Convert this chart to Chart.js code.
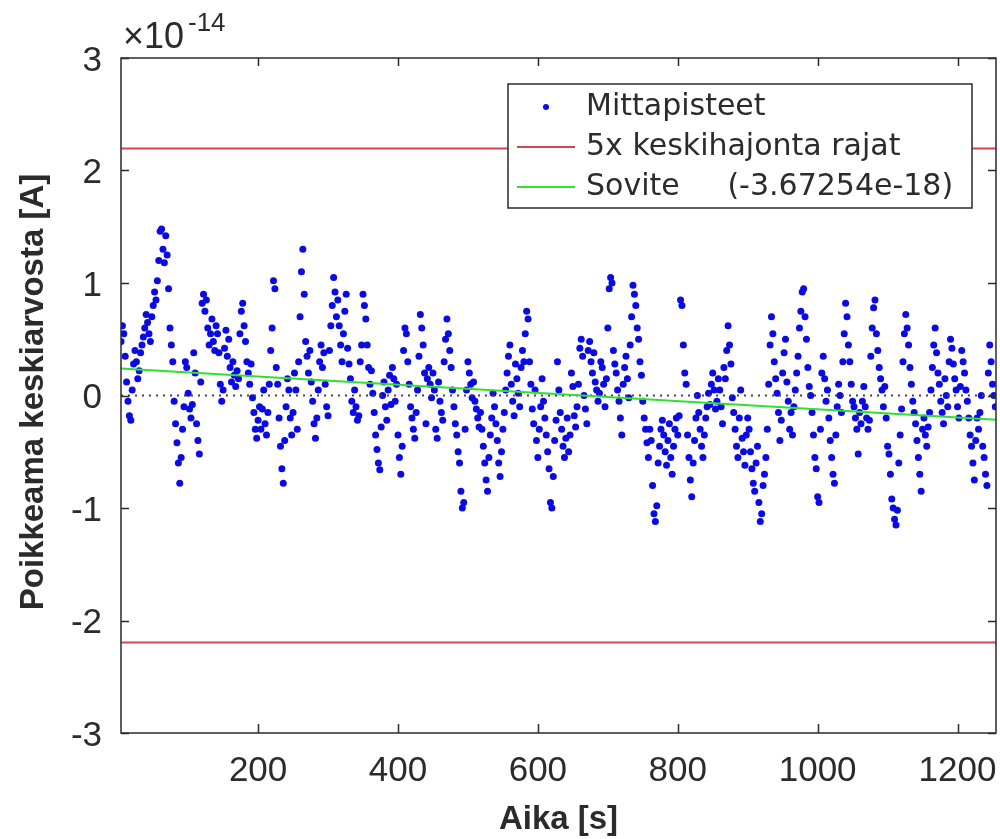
<!DOCTYPE html>
<html>
<head>
<meta charset="utf-8">
<script src="https://cdn.jsdelivr.net/npm/chart.js@4.4.0/dist/chart.umd.min.js"></script>
<style>
  html, body { margin: 0; padding: 0; background: #fff; }
  #wrap { width: 1000px; height: 839px; }
</style>
</head>
<body>
<div id="wrap"><canvas id="chart" width="1000" height="839"></canvas></div>
<script>
// measured deviation from the mean, units of 1e-14 A, one reading every 2 s from t = 4 s
const sampleStart = 4;
const sampleStep = 2;
const deviations = [
  0.48, 0.62, 0.55, 0.35, 0.12, -0.05, -0.18, -0.22, 0.05, 0.28, 0.40, 0.30, 0.15, 0.22, 0.38, 0.45, 0.52, 0.60, 0.72, 0.65,
  0.55, 0.48, 0.70, 0.80, 0.92, 0.85, 1.02, 1.20, 1.46, 1.48, 1.30, 1.18, 1.42, 1.25, 0.95, 0.60, 0.45, 0.30, -0.05, -0.25,
  -0.42, -0.60, -0.78, -0.55, -0.30, -0.10, 0.30, 0.25, 0.02, -0.12, -0.20, -0.08, 0.38, 0.20, -0.25, -0.40, -0.52, 0.12, 0.82, 0.90,
  0.75, 0.85, 0.60, 0.45, 0.55, 0.68, 0.48, 0.40, 0.62, 0.55, 0.38, 0.10, -0.05, 0.05, 0.42, 0.58, 0.35, 0.50, 0.25, 0.12,
  0.30, 0.18, 0.08, 0.22, 0.15, 0.55, 0.75, 0.82, 0.62, 0.48, 0.30, 0.20, 0.10, 0.28, -0.02, -0.15, -0.30, -0.38, -0.22, -0.10,
  -0.30, -0.12, 0.05, -0.25, -0.35, -0.15, 0.10, 0.40, 0.60, 1.02, 0.95, 0.25, 0.10, -0.20, -0.45, -0.65, -0.78, -0.40, -0.10, 0.15,
  0.05, -0.20, -0.35, -0.15, 0.20, 0.05, -0.30, 0.30, 0.70, 1.10, 1.30, 0.90, 0.48, 0.35, 0.20, 0.40, 0.12, -0.05, -0.25, -0.38,
  -0.20, 0.05, 0.30, 0.45, 0.25, 0.38, 0.10, -0.10, -0.18, 0.40, 0.62, 0.80, 1.05, 0.92, 0.70, 0.85, 0.62, 0.45, 0.30, 0.55,
  0.75, 0.90, 0.42, 0.28, 0.15, -0.05, -0.15, 0.05, -0.10, -0.22, -0.18, 0.30, 0.45, 0.90, 0.80, 0.68, 0.45, 0.25, 0.10, 0.22,
  0.02, -0.15, -0.35, -0.48, -0.60, -0.66, -0.28, 0.00, 0.12, -0.10, -0.22, 0.05, 0.18, -0.08, 0.25, 0.15, -0.05, 0.10, -0.35, -0.55,
  -0.70, -0.45, 0.40, 0.60, 0.55, 0.30, 0.10, -0.10, -0.20, -0.30, -0.38, -0.15, 0.05, 0.35, 0.72, 0.60, 0.45, 0.20, -0.25, 0.15,
  0.25, 0.10, -0.02, 0.20, 0.05, -0.30, -0.38, 0.12, -0.05, -0.15, -0.22, 0.30, 0.50, 0.68, 0.55, 0.40, 0.25, 0.05, -0.10, -0.25,
  -0.35, -0.50, -0.60, -0.85, -1.00, -0.95, -0.30, 0.05, 0.30, 0.20, 0.10, -0.02, 0.12, -0.05, -0.12, -0.20, -0.28, -0.15, -0.30, -0.45,
  -0.60, -0.75, -0.85, -0.55, -0.35, -0.20, 0.02, -0.10, -0.25, -0.40, -0.60, -0.72, -0.50, -0.30, -0.15, 0.05, 0.20, 0.35, 0.45, 0.10,
  -0.05, -0.18, 0.28, 0.15, 0.02, -0.10, 0.25, 0.40, 0.30, 0.55, 0.75, 0.68, 0.30, 0.10, -0.12, -0.25, 0.05, -0.40, -0.55, -0.30,
  -0.10, 0.15, -0.05, -0.20, -0.35, -0.50, -0.65, -0.95, -1.00, -0.72, -0.40, -0.22, 0.30, 0.05, -0.15, -0.30, -0.45, -0.55, -0.38, -0.20,
  -0.50, -0.35, 0.20, 0.08, -0.18, -0.28, -0.10, 0.10, 0.42, 0.50, 0.35, 0.00, -0.12, -0.25, 0.40, 0.48, 0.30, 0.20, 0.38, 0.12,
  0.05, -0.05, 0.02, 0.30, 0.25, 0.10, -0.10, 0.15, 0.60, 0.95, 1.05, 1.00, 0.40, 0.28, 0.20, 0.05, -0.05, -0.20, -0.35, 0.10,
  0.25, 0.35, 0.15, -0.02, 0.45, 0.70, 0.98, 0.90, 0.80, 0.60, 0.50, 0.30, 0.18, -0.05, -0.20, -0.30, -0.42, -0.55, -0.30, -0.40,
  -0.80, -1.05, -1.12, -0.98, -0.60, -0.45, -0.30, -0.22, -0.35, -0.50, -0.62, -0.40, -0.25, -0.55, -0.70, -0.45, -0.30, -0.20, -0.35, -0.18,
  0.85, 0.80, 0.45, 0.20, 0.10, -0.35, -0.55, -0.75, -0.90, -0.60, -0.40, -0.20, 0.00, -0.15, -0.30, -0.45, -0.55, -0.35, -0.20, -0.10,
  0.02, -0.08, 0.10, 0.20, 0.05, -0.12, -0.05, 0.15, 0.05, -0.10, -0.25, 0.25, 0.15, 0.40, 0.62, 0.45, 0.28, -0.02, -0.15, -0.30,
  -0.45, -0.55, -0.20, 0.05, -0.38, -0.50, -0.62, -0.35, -0.20, -0.30, -0.50, -0.65, -0.78, -0.85, -0.60, -0.45, -0.95, -1.12, -1.05, -0.80,
  -0.70, -0.55, -0.30, 0.10, 0.45, 0.70, 0.55, 0.30, 0.15, 0.02, -0.15, -0.40, -0.22, 0.20, 0.38, 0.50, 0.12, -0.05, -0.30, -0.15,
  -0.35, -0.10, 0.05, 0.20, 0.35, 0.60, 0.75, 0.92, 0.95, 0.70, 0.50, 0.25, 0.08, 0.00, -0.15, -0.35, -0.55, -0.65, -0.90, -0.95,
  -0.30, 0.20, 0.35, 0.15, -0.05, 0.05, -0.20, -0.40, -0.55, -0.70, -0.78, -0.35, -0.10, 0.10, 0.00, -0.15, 0.30, 0.55, 0.82, 0.70,
  0.45, 0.30, 0.10, -0.05, -0.10, -0.20, -0.30, -0.52, -0.15, -0.25, -0.05, 0.08, -0.10, -0.20, -0.30, -0.22, 0.35, 0.60, 0.78, 0.85,
  0.55, 0.40, 0.25, 0.15, 0.05, -0.10, 0.08, -0.20, -0.45, -0.52, -0.70, -0.92, -1.00, -1.10, -1.15, -1.02, -0.60, -0.35, -0.12, 0.30,
  0.55, 0.72, 0.60, 0.45, 0.25, 0.10, -0.05, -0.15, -0.25, -0.40, -0.55, -0.70, -0.85, -0.30, -0.20, -0.35, -0.45, -0.28, -0.15, 0.05,
  0.25, 0.45, 0.60, 0.38, 0.20, 0.10, -0.05, -0.15, -0.25, 0.15, 0.00, -0.10, 0.30, 0.50, 0.42, 0.28, 0.15, 0.05, -0.10, -0.20,
  0.08, 0.40, 0.30, 0.20, 0.05, -0.05, -0.20, -0.35, -0.45, -0.60, -0.75, -0.40, -0.20, -0.30, -0.15, 0.00, -0.45, -0.55, -0.70, -0.80,
  0.20, 0.45, 0.30, 0.10, 0.00, -0.10
];
const times = deviations.map((_, i) => sampleStart + i * sampleStep);

// 5 sigma limits and the linear fit (end points)
const limitTimes = [4, 1255];
const upperLimit = [2.195, 2.195];
const lowerLimit = [-2.195, -2.195];
const fitTimes = [4, 1255];
const fitValues = [0.24, -0.215];
const zeroValues = [0, 0];

const xTicks = [200, 400, 600, 800, 1000, 1200];
const yTicks = [-3, -2, -1, 0, 1, 2, 3];

const legendLabels = ["Mittapisteet", "5x keskihajonta rajat", "Sovite     (-3.67254e-18)"];

const pts = (xs, ys) => xs.map((x, i) => ({ x: x, y: ys[i] }));

const txt = "#2b2b2b";

const figurePlugin = {
  id: "figure",
  beforeDraw(chart) {
    const ctx = chart.ctx;
    ctx.save();
    ctx.fillStyle = "#fff";
    ctx.fillRect(0, 0, chart.width, chart.height);
    ctx.restore();
  },
  afterDraw(chart) {
    const { ctx, chartArea: a, scales } = chart;
    const x = scales.x, y = scales.y;
    ctx.save();

    // box and inward ticks
    ctx.strokeStyle = txt;
    ctx.lineWidth = 1.5;
    ctx.strokeRect(a.left, a.top, a.right - a.left, a.bottom - a.top);
    ctx.beginPath();
    xTicks.forEach(v => {
      const px = Math.round(x.getPixelForValue(v)) + 0.5;
      ctx.moveTo(px, a.bottom); ctx.lineTo(px, a.bottom - 9);
      ctx.moveTo(px, a.top); ctx.lineTo(px, a.top + 8);
    });
    yTicks.forEach(v => {
      const py = Math.round(y.getPixelForValue(v)) + 0.5;
      ctx.moveTo(a.left, py); ctx.lineTo(a.left + 8, py);
      ctx.moveTo(a.right, py); ctx.lineTo(a.right - 8, py);
    });
    ctx.stroke();

    // tick labels
    ctx.fillStyle = txt;
    ctx.font = "35px 'Liberation Sans', Arial, sans-serif";
    ctx.textBaseline = "alphabetic";
    ctx.textAlign = "right";
    yTicks.forEach(v => {
      ctx.fillText(String(v), a.left - 19, y.getPixelForValue(v) + 12.5);
    });
    ctx.textAlign = "center";
    xTicks.forEach(v => {
      ctx.fillText(String(v), x.getPixelForValue(v), 781);
    });

    // exponent
    ctx.textAlign = "left";
    ctx.font = "36px 'Liberation Sans', Arial, sans-serif";
    ctx.fillText("\u00d710", 123, 48);
    ctx.font = "26px 'Liberation Sans', Arial, sans-serif";
    ctx.fillText("-14", 188, 31);

    // axis titles
    ctx.font = "bold 33px 'Liberation Sans', Arial, sans-serif";
    ctx.textAlign = "center";
    ctx.fillText("Aika [s]", (a.left + a.right) / 2, 829);
    ctx.save();
    ctx.translate(43, 392);
    ctx.rotate(-Math.PI / 2);
    ctx.fillText("Poikkeama keskiarvosta [A]", 0, 0);
    ctx.restore();

    // legend
    const lx = 508, ly = 84, lw = 464, lh = 124;
    ctx.fillStyle = "#fff";
    ctx.fillRect(lx, ly, lw, lh);
    ctx.strokeStyle = txt;
    ctx.lineWidth = 1.5;
    ctx.strokeRect(lx, ly, lw, lh);
    const rows = [107, 147, 187];
    const ds = chart.data.datasets;
    // marker for the scatter
    ctx.fillStyle = ds[0].backgroundColor;
    ctx.beginPath();
    ctx.arc(546, rows[0], 3, 0, Math.PI * 2);
    ctx.fill();
    [1, 3].forEach((di, k) => {
      ctx.strokeStyle = ds[di].borderColor;
      ctx.lineWidth = 2;
      ctx.beginPath();
      ctx.moveTo(517, rows[k + 1]);
      ctx.lineTo(575, rows[k + 1]);
      ctx.stroke();
    });
    ctx.fillStyle = txt;
    ctx.font = "30px 'DejaVu Sans', sans-serif";
    ctx.textAlign = "left";
    ctx.textBaseline = "middle";
    legendLabels.forEach((t, i) => ctx.fillText(t, 586, rows[i]));
    ctx.restore();
  }
};

new Chart(document.getElementById("chart"), {
  type: "scatter",
  data: {
    datasets: [
      {
        label: legendLabels[0],
        data: pts(times, deviations),
        backgroundColor: "rgb(10,10,228)",
        borderWidth: 0,
        pointRadius: 3.5,
        order: 4
      },
      {
        label: legendLabels[1],
        data: pts(limitTimes, upperLimit),
        showLine: true,
        borderColor: "#d4464f",
        borderWidth: 2,
        pointRadius: 0,
        order: 3
      },
      {
        label: "",
        data: pts(limitTimes, lowerLimit),
        showLine: true,
        borderColor: "#d4464f",
        borderWidth: 2,
        pointRadius: 0,
        order: 3
      },
      {
        label: legendLabels[2],
        data: pts(fitTimes, fitValues),
        showLine: true,
        borderColor: "#2fe02f",
        borderWidth: 2,
        pointRadius: 0,
        order: 1
      },
      {
        label: "",
        data: pts(limitTimes, zeroValues),
        showLine: true,
        borderColor: "#444",
        borderWidth: 2,
        borderDash: [2, 5],
        pointRadius: 0,
        order: 2
      }
    ]
  },
  options: {
    responsive: false,
    animation: false,
    devicePixelRatio: 1,
    layout: { padding: { top: 58, right: 4, left: 0, bottom: 0 } },
    plugins: { legend: { display: false }, tooltip: { enabled: false } },
    scales: {
      x: {
        type: "linear",
        min: 4,
        max: 1255,
        grid: { display: false },
        border: { display: false },
        ticks: { display: false },
        afterFit: s => { s.height = 106; }
      },
      y: {
        type: "linear",
        min: -3,
        max: 3,
        grid: { display: false },
        border: { display: false },
        ticks: { display: false },
        afterFit: s => { s.width = 121; }
      }
    }
  },
  plugins: [figurePlugin]
});
</script>
</body>
</html>
